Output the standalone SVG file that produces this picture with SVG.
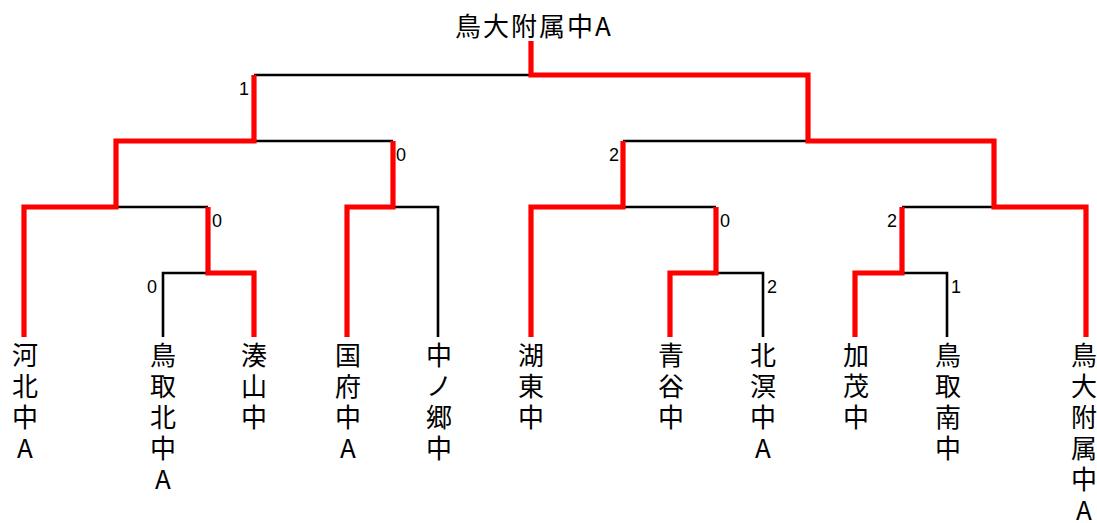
<svg xmlns="http://www.w3.org/2000/svg" width="1097" height="523" viewBox="0 0 1097 523">
<style>
.bk{fill:none;stroke:#000;stroke-width:2.6;stroke-linecap:butt;stroke-linejoin:miter}
.rd{fill:none;stroke:#ff0000;stroke-width:5.2;stroke-linecap:butt;stroke-linejoin:miter}
.nm{font-family:"Noto Sans CJK JP","Noto Sans CJK SC",sans-serif;font-size:26px;fill:#000;text-anchor:middle}
.sc{font-family:"Liberation Sans",Arial,sans-serif;font-size:18px;fill:#000;text-anchor:middle}
.tt{font-family:"Noto Sans CJK JP","Noto Sans CJK SC",sans-serif;font-size:26px;fill:#000;text-anchor:middle;letter-spacing:2px}
</style>
<rect width="1097" height="523" fill="#fff"/>
<g id="connectors">
<path class="bk" d="M254,75H531 M254,141H393 M116,207H208 M393,207H438V337 M163,337V273H208 M623,141H808 M623,207H716 M902,207H994 M716,273H763V337 M902,273H947V337"/>
<path class="rd" d="M531,41V75H808V141H994V207H1086V337"/>
<path class="rd" d="M24,337V207H116V141H254V75"/>
<path class="rd" d="M254,337V273H208V207"/>
<path class="rd" d="M347,337V207H393V141"/>
<path class="rd" d="M531,337V207H623V141"/>
<path class="rd" d="M670,337V273H716V207"/>
<path class="rd" d="M855,337V273H902V207"/>
</g>
<g id="scores">
<text class="sc" x="244" y="95">1</text>
<text class="sc" x="401" y="161">0</text>
<text class="sc" x="217" y="227">0</text>
<text class="sc" x="152" y="293">0</text>
<text class="sc" x="614" y="161">2</text>
<text class="sc" x="725" y="227">0</text>
<text class="sc" x="892" y="227">2</text>
<text class="sc" x="772" y="293">2</text>
<text class="sc" x="956" y="293">1</text>
</g>
<g id="title"><text class="tt" x="534" y="36">鳥大附属中A</text></g>
<g id="n1"><text class="nm"><tspan x="25" y="365">河</tspan><tspan x="25" dy="31">北</tspan><tspan x="25" dy="31">中</tspan><tspan x="25" dy="31">A</tspan></text></g>
<g id="n2"><text class="nm"><tspan x="163" y="365">鳥</tspan><tspan x="163" dy="31">取</tspan><tspan x="163" dy="31">北</tspan><tspan x="163" dy="31">中</tspan><tspan x="163" dy="31">A</tspan></text></g>
<g id="n3"><text class="nm"><tspan x="254" y="365">湊</tspan><tspan x="254" dy="31">山</tspan><tspan x="254" dy="31">中</tspan></text></g>
<g id="n4"><text class="nm"><tspan x="348" y="365">国</tspan><tspan x="348" dy="31">府</tspan><tspan x="348" dy="31">中</tspan><tspan x="348" dy="31">A</tspan></text></g>
<g id="n5"><text class="nm"><tspan x="439" y="365">中</tspan><tspan x="439" dy="31">ノ</tspan><tspan x="439" dy="31">郷</tspan><tspan x="439" dy="31">中</tspan></text></g>
<g id="n6"><text class="nm"><tspan x="531" y="365">湖</tspan><tspan x="531" dy="31">東</tspan><tspan x="531" dy="31">中</tspan></text></g>
<g id="n7"><text class="nm"><tspan x="671" y="365">青</tspan><tspan x="671" dy="31">谷</tspan><tspan x="671" dy="31">中</tspan></text></g>
<g id="n8"><text class="nm"><tspan x="763" y="365">北</tspan><tspan x="763" dy="31">溟</tspan><tspan x="763" dy="31">中</tspan><tspan x="763" dy="31">A</tspan></text></g>
<g id="n9"><text class="nm"><tspan x="856" y="365">加</tspan><tspan x="856" dy="31">茂</tspan><tspan x="856" dy="31">中</tspan></text></g>
<g id="n10"><text class="nm"><tspan x="948" y="365">鳥</tspan><tspan x="948" dy="31">取</tspan><tspan x="948" dy="31">南</tspan><tspan x="948" dy="31">中</tspan></text></g>
<g id="n11"><text class="nm"><tspan x="1084" y="365">鳥</tspan><tspan x="1084" dy="31">大</tspan><tspan x="1084" dy="31">附</tspan><tspan x="1084" dy="31">属</tspan><tspan x="1084" dy="31">中</tspan><tspan x="1084" dy="31">A</tspan></text></g>
</svg>
